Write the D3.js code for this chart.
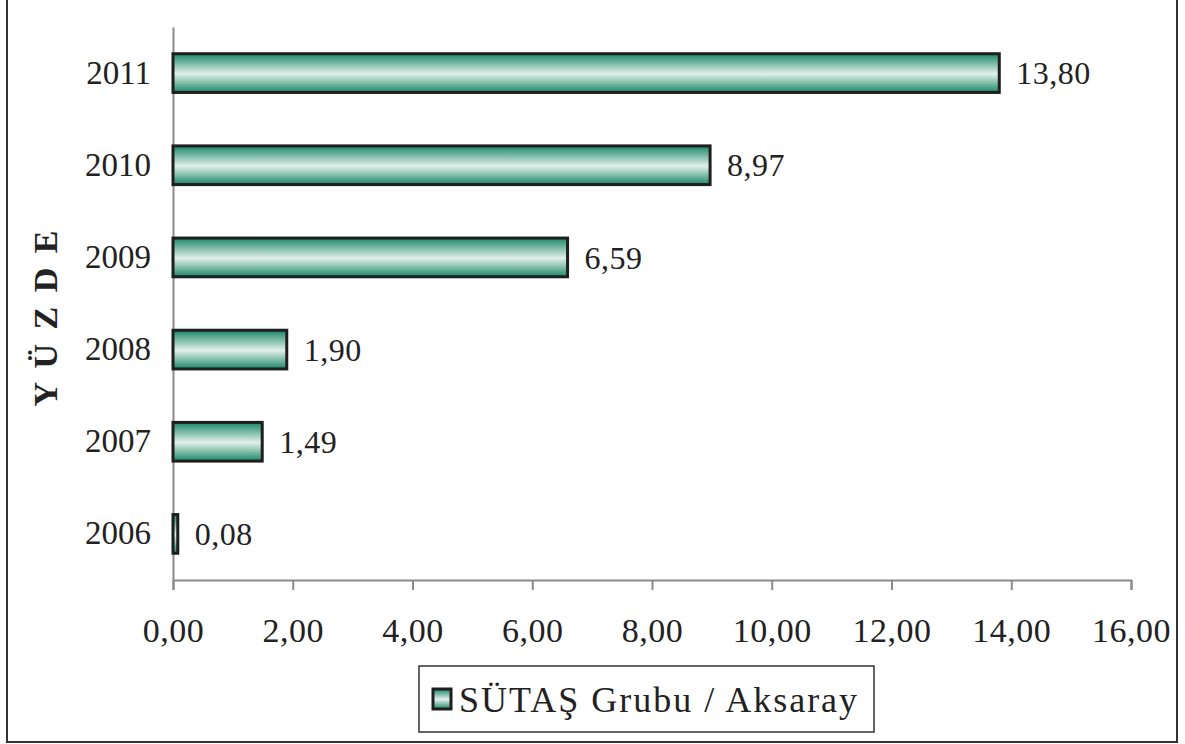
<!DOCTYPE html>
<html>
<head>
<meta charset="utf-8">
<script src="https://cdn.jsdelivr.net/npm/d3@7"></script>
<style>
  body { margin: 0; background: #fff; }
  svg { display: block; font-family: "Liberation Serif", "DejaVu Serif", serif; }
</style>
</head>
<body>
<svg width="1185" height="744"></svg>
<script>
"use strict";

const years = ['2006', '2007', '2008', '2009', '2010', '2011'];
const values = [0.08, 1.49, 1.90, 6.59, 8.97, 13.80];
const xTicks = [0, 2, 4, 6, 8, 10, 12, 14, 16];
const seriesName = 'SÜTAŞ Grubu / Aksaray';
const axisTitle = 'Y Ü Z D E';

const data = years.map((y, i) => ({year: y, value: values[i]}));
const fmt = v => v.toFixed(2).replace('.', ',');

const svg = d3.select('svg');

// outer frame (top edge is cut off in the picture)
svg.append('path')
    .attr('d', 'M7,0 V742 H1177 V0')
    .attr('fill', 'none')
    .attr('stroke', '#333')
    .attr('stroke-width', 2);

const defs = svg.append('defs');
const grad = defs.append('linearGradient')
    .attr('id', 'barGrad')
    .attr('x1', 0).attr('y1', 0).attr('x2', 0).attr('y2', 1);
grad.append('stop').attr('offset', '0%').attr('stop-color', '#1a8767');
grad.append('stop').attr('offset', '52%').attr('stop-color', '#e2f0ea');
grad.append('stop').attr('offset', '100%').attr('stop-color', '#1a8767');

const margin = {left: 173, top: 27, right: 54, bottom: 164};
const width = 1185 - margin.left - margin.right,
    height = 744 - margin.top - margin.bottom;

const g = svg.append('g').attr('transform', `translate(${margin.left},${margin.top})`);

const x = d3.scaleLinear().domain([0, 16]).range([0, width]);
const y = d3.scaleBand().domain(years.slice().reverse()).range([0, height]).paddingInner(0.58).paddingOuter(0.29);

// x axis
const xAxis = g.append('g')
    .attr('transform', `translate(0,${height})`)
    .call(d3.axisBottom(x).tickValues(xTicks).tickFormat(fmt).tickSize(10).tickSizeOuter(10).tickPadding(28));
xAxis.select('.domain').attr('stroke', '#8a8a8a').attr('stroke-width', 2);
xAxis.selectAll('.tick line').attr('stroke', '#8a8a8a').attr('stroke-width', 2);
xAxis.selectAll('.tick text')
    .attr('font-family', '"Liberation Serif", serif')
    .attr('font-size', 34)
    .attr('letter-spacing', 0.5)
    .attr('fill', '#222');

// y axis
const yAxis = g.append('g')
    .call(d3.axisLeft(y).tickSize(0).tickPadding(22));
yAxis.select('.domain').attr('stroke', '#8a8a8a').attr('stroke-width', 2);
yAxis.selectAll('.tick text')
    .attr('font-family', '"Liberation Serif", serif')
    .attr('font-size', 33)
    .attr('fill', '#222');

// bars
g.selectAll('.bar')
    .data(data)
    .enter().append('rect')
    .attr('class', 'bar')
    .attr('x', x(0))
    .attr('y', d => y(d.year))
    .attr('width', d => x(d.value) - x(0))
    .attr('height', y.bandwidth())
    .attr('fill', 'url(#barGrad)')
    .attr('stroke', '#1e1e1e')
    .attr('stroke-width', 3);

// value labels
g.selectAll('.val')
    .data(data)
    .enter().append('text')
    .attr('class', 'val')
    .attr('x', d => x(d.value) + 17)
    .attr('y', d => y(d.year) + y.bandwidth() / 2)
    .attr('dy', '0.35em')
    .attr('font-size', 32)
    .attr('letter-spacing', 0.5)
    .attr('fill', '#222')
    .text(d => fmt(d.value));

// vertical title
svg.append('text')
    .attr('transform', `translate(57,317) rotate(-90)`)
    .attr('text-anchor', 'middle')
    .attr('font-size', 34)
    .attr('font-weight', 'bold')
    .attr('letter-spacing', 3)
    .attr('fill', '#222')
    .text(axisTitle);

// legend
const lg = svg.append('g').attr('transform', 'translate(419,666)');
lg.append('rect')
    .attr('width', 455).attr('height', 66)
    .attr('fill', '#fff').attr('stroke', '#333').attr('stroke-width', 1.5);
lg.append('rect')
    .attr('x', 14).attr('y', 23).attr('width', 18).attr('height', 20)
    .attr('fill', 'url(#barGrad)').attr('stroke', '#1e1e1e').attr('stroke-width', 3);
lg.append('text')
    .attr('x', 40).attr('y', 33).attr('dy', '0.35em')
    .attr('font-size', 36)
    .attr('letter-spacing', 2)
    .attr('fill', '#222')
    .text(seriesName);
</script>
</body>
</html>
